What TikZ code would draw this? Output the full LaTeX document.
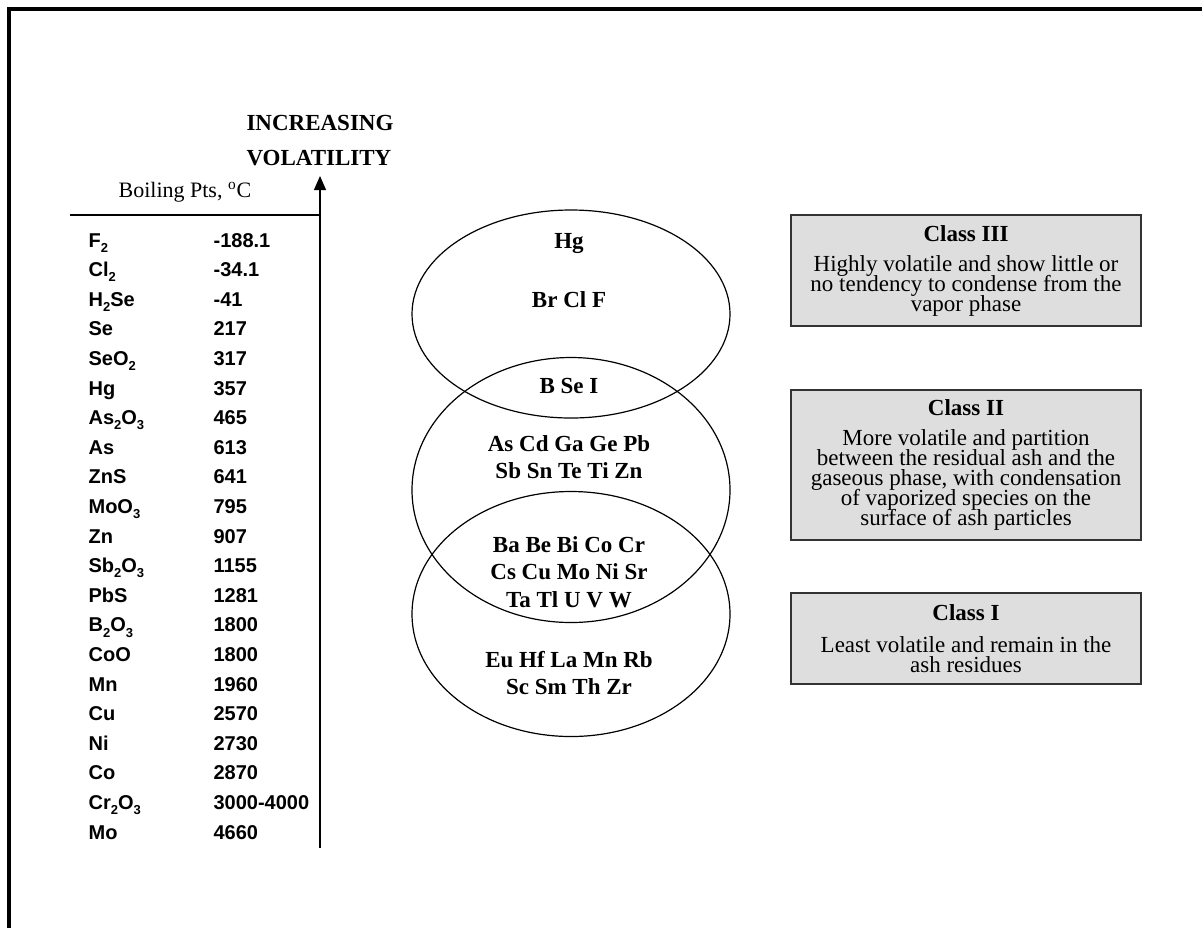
\documentclass[tikz,border=0pt]{standalone}
\usepackage{fontspec}
\setmainfont{Liberation Serif}
\newfontfamily\arialfont{Liberation Sans}
\usetikzlibrary{arrows.meta,shapes.geometric}

\newcommand{\chemsub}[1]{\raisebox{-2.6pt}[0pt][0pt]{\fontsize{6.5}{6.5}\selectfont #1}}
\newcommand{\tightlines}{\setlength{\lineskiplimit}{-20pt}}

\begin{document}
\begin{tikzpicture}[x=0.5pt,y=-0.5pt,>={Triangle[length=7pt,width=6pt]},semithick,
    every node/.style={inner sep=0pt},
    tabentry/.style={anchor=base west,font=\arialfont\bfseries\fontsize{10}{12}\selectfont},
    group/.style={draw,ellipse,line width=0.6pt,minimum width=159pt,inner sep=0pt},
    grouptext/.style={align=center,font=\bfseries\fontsize{11.5}{13.7}\selectfont},
    classbox/.style={draw=black!80,fill=black!13,line width=0.7pt,minimum width=175pt,align=center,
                     font=\fontsize{11.5}{10}\selectfont\tightlines}]
            \useasboundingbox (0,0) rectangle (1202,928);
            \draw[line width=2pt] (9,928) -- (9,9) -- (1202,9);

            % volatility axis
            \node[align=left,font=\bfseries\fontsize{11.5}{17.5}\selectfont] (incr) at (320,141) {INCREASING\\VOLATILITY};
            \coordinate (axtop) at (320,176);
            \coordinate (axbot) at (320,848);
            \coordinate (rulel) at (70,215);
            \coordinate (ruler) at (320,215);
            \node[font=\fontsize{11}{13}\selectfont] (bp) at (185,192) {Boiling Pts, \textsuperscript{o}C};
            \draw[->] (axbot) -- (axtop);
            \draw (rulel) -- (ruler);

            % boiling points
            \foreach \name/\val [count=\i from 0] in {
                    {F\chemsub{2}}/{-188.1}, {Cl\chemsub{2}}/{-34.1}, {H\chemsub{2}Se}/{-41},
                    {Se}/{217}, {SeO\chemsub{2}}/{317}, {Hg}/{357},
                    {As\chemsub{2}O\chemsub{3}}/{465}, {As}/{613}, {ZnS}/{641},
                    {MoO\chemsub{3}}/{795}, {Zn}/{907}, {Sb\chemsub{2}O\chemsub{3}}/{1155},
                    {PbS}/{1281}, {B\chemsub{2}O\chemsub{3}}/{1800}, {CoO}/{1800},
                    {Mn}/{1960}, {Cu}/{2570}, {Ni}/{2730}, {Co}/{2870},
                    {Cr\chemsub{2}O\chemsub{3}}/{3000-4000}, {Mo}/{4660}} {
                \node[tabentry] (name\i) at (88,247+29.6*\i) {\name};
                \node[tabentry] (val\i) at (213,247+29.6*\i) {\val};
            }

            % element groups
            \node[group,minimum height=104pt] (high) at (571,314) {};
            \node[group,minimum height=132.5pt] (mid) at (571,490) {};
            \node[group,minimum height=122.5pt] (low) at (571,614) {};
            \node[grouptext] (hg) at (569,243) {Hg};
            \node[grouptext] (halo) at (569,300) {Br Cl F};
            \node[grouptext] (bsei) at (569,386) {B Se I};
            \node[grouptext] (semi) at (569,457) {As Cd Ga Ge Pb\\Sb Sn Te Ti Zn};
            \node[grouptext] (both) at (569,572) {Ba Be Bi Co Cr\\Cs Cu Mo Ni Sr\\Ta Tl U V W};
            \node[grouptext] (lith) at (569,673) {Eu Hf La Mn Rb\\Sc Sm Th Zr};

            % classes
            \node[classbox,minimum height=55.5pt] (c3) at (966,270.5)
                {\textbf{Class III}\\[5pt]Highly volatile and show little or\\no tendency to condense from the\\vapor phase};
            \node[classbox,minimum height=75pt] (c2) at (966,465)
                {\textbf{Class II}\\[5pt]More volatile and partition\\between the residual ash and the\\gaseous phase, with condensation\\of vaporized species on the\\surface of ash particles};
            \node[classbox,minimum height=45.5pt] (c1) at (966,638.5)
                {\textbf{Class I}\\[6pt]Least volatile and remain in the\\ash residues};
        \end{tikzpicture}
\end{document}
